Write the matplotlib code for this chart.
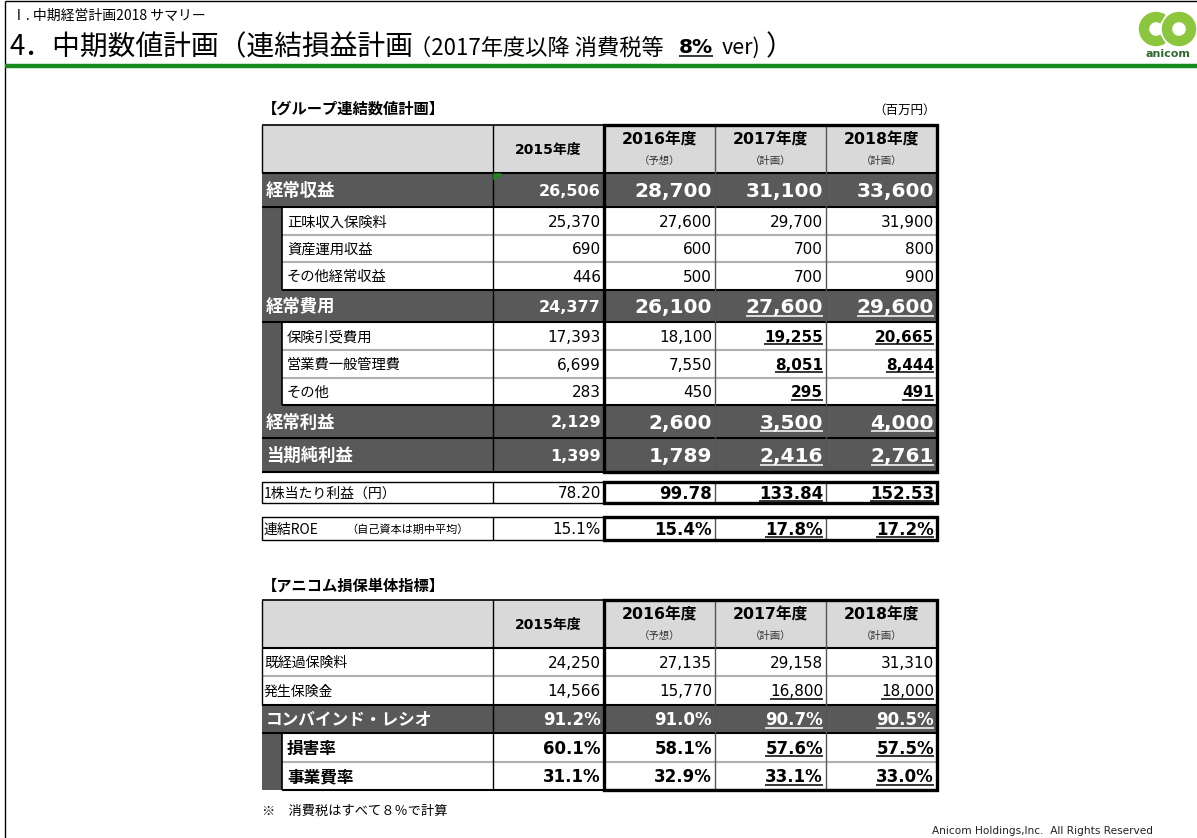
import matplotlib
matplotlib.use("Agg")
import matplotlib.pyplot as plt
from matplotlib.patches import Rectangle, Wedge, Polygon

W, H = 1197, 838
JP = ['Noto Sans CJK JP', 'DejaVu Sans']
NUM = ['DejaVu Sans', 'Noto Sans CJK JP']
DARK = '#595959'
HEAD = '#d9d9d9'
SEP = '#b0b0b0'

# ---- data ----
years = ['2015年度', '2016年度', '2017年度', '2018年度']
year_notes = ['', '（予想）', '（計画）', '（計画）']

t1_title = '【グループ連結数値計画】'
t1_unit = '（百万円）'
t1_labels = ['経常収益', '正味収入保険料', '資産運用収益', 'その他経常収益',
             '経常費用', '保険引受費用', '営業費一般管理費', 'その他',
             '経常利益', '当期純利益']
t1_values = [
    [26506, 28700, 31100, 33600],
    [25370, 27600, 29700, 31900],
    [690, 600, 700, 800],
    [446, 500, 700, 900],
    [24377, 26100, 27600, 29600],
    [17393, 18100, 19255, 20665],
    [6699, 7550, 8051, 8444],
    [283, 450, 295, 491],
    [2129, 2600, 3500, 4000],
    [1399, 1789, 2416, 2761],
]
eps_label = '1株当たり利益（円）'
eps_values = [78.20, 99.78, 133.84, 152.53]
roe_label = '連結ROE'
roe_note = '（自己資本は期中平均）'
roe_values = [15.1, 15.4, 17.8, 17.2]

t2_title = '【アニコム損保単体指標】'
t2_labels = ['既経過保険料', '発生保険金', 'コンバインド・レシオ', '損害率', '事業費率']
t2_values = [
    [24250, 27135, 29158, 31310],
    [14566, 15770, 16800, 18000],
    [91.2, 91.0, 90.7, 90.5],
    [60.1, 58.1, 57.6, 57.5],
    [31.1, 32.9, 33.1, 33.0],
]

# ---- layout ----
cols = [262, 493, 604, 715, 826, 937]
t1_rows = [125, 173, 207, 235, 262, 290, 322, 350, 378, 405, 438, 472]
eps_rows = [482, 503]
roe_rows = [517, 540]
t2_rows = [600, 648, 676, 705, 733, 762, 790]
t1_main = [0, 4, 8, 9]

fig = plt.figure(figsize=(W / 100, H / 100), dpi=100)
ax = fig.add_axes([0, 0, 1, 1])
ax.set_xlim(0, W)
ax.set_ylim(H, 0)
ax.axis('off')
rend = fig.canvas.get_renderer()


def box(x0, y0, x1, y1, fc='none', ec='none', lw=0, z=1):
    ax.add_patch(Rectangle((x0, y0), x1 - x0, y1 - y0, facecolor=fc,
                           edgecolor=ec, linewidth=lw, zorder=z))


def line(xs, ys, c='black', lw=1.0, z=3):
    ax.plot(xs, ys, color=c, lw=lw, zorder=z, solid_capstyle='butt')


def put(x, yc, s, size, ha='right', bold=False, color='black', ul=False, fam=NUM):
    base = yc + 0.37 * size * 100 / 72
    t = ax.text(x, base, s, fontsize=size, ha=ha, va='baseline', color=color,
                fontweight='bold' if bold else 'normal', family=fam, zorder=5)
    if ul:
        bb = t.get_window_extent(rend)
        line([bb.x0, bb.x1], [base + 2.5, base + 2.5], c=color, lw=1.1, z=5)
    return t


def fmt(v, kind):
    if kind == 'int':
        return f'{v:,.0f}'
    if kind == 'eps':
        return f'{v:.2f}'
    return f'{v:.1f}%'


# ---- frame / header ----
line([5, W], [1.5, 1.5], lw=1.0)
line([5, 5], [1.5, H], lw=1.0)
line([5, W], [66, 66], c='#178a1d', lw=3.2)
put(12, 15, 'Ⅰ. 中期経営計画2018 サマリー', 10, ha='left', fam=JP)
put(10, 45, '4．中期数値計画（連結損益計画', 20, ha='left', fam=JP)
put(409, 46, '（2017年度以降 消費税等', 16, ha='left', fam=JP)
put(679, 46, '8%', 14.5, ha='left', bold=True, ul=True)
put(722, 46, 'ver)', 15.5, ha='left', fam=JP)
put(766, 45, '）', 20, ha='left', fam=JP)

# logo
ax.add_patch(Wedge((1156, 29), 16.5, 58, 302, width=9, color='#8cc63f', zorder=4))
ax.add_patch(Wedge((1179, 29), 16.5, 0, 360, width=9, color='#8cc63f', zorder=4))
ax.text(1168, 54, 'anicom', fontsize=8, fontweight='bold', color='#2e6b2e',
        ha='center', va='center', family=NUM, zorder=5)


def header(top, bot):
    box(cols[0], top, cols[-1], bot, fc=HEAD)
    line([cols[0], cols[-1]], [top, top], lw=1.2)
    line([cols[0], cols[-1]], [bot, bot], lw=1.5)
    for i, x in enumerate(cols):
        line([x, x], [top, bot], c='black' if i < 3 or i == 5 else '#555555', lw=1.0)
    for j, (yr, note) in enumerate(zip(years, year_notes)):
        xc = (cols[j + 1] + cols[j + 2]) / 2
        if note:
            put(xc, top + 14, yr, 11.3, ha='center', bold=True)
            put(xc, top + 35, note, 7.5, ha='center', color='#333333', fam=JP)
        else:
            put(xc, (top + bot) / 2, yr, 10, ha='center', bold=True)


# ---- table 1 ----
put(262, 108, t1_title, 11, ha='left', bold=True, fam=JP)
put(936, 109, t1_unit, 9, ha='right', fam=JP)
header(t1_rows[0], t1_rows[1])

for i, (lab, vals) in enumerate(zip(t1_labels, t1_values)):
    y0, y1 = t1_rows[i + 1], t1_rows[i + 2]
    yc = (y0 + y1) / 2
    if i in t1_main:
        box(cols[0], y0, cols[-1], y1, fc=DARK)
        put(266, yc, lab, 12.5, ha='left', bold=True, color='white', fam=JP)
        ul = i != 0
        for j, v in enumerate(vals):
            xr = cols[j + 2] - 3
            if j == 0:
                put(xr, yc, fmt(v, 'int'), 11.5, bold=True, color='white')
            else:
                put(xr, yc, fmt(v, 'int'), 14.5, bold=True, color='white', ul=ul and j >= 2)
        line([cols[0], cols[-1]], [y1, y1], lw=1.5)
    else:
        box(cols[0], y0, 282, y1, fc=DARK)
        box(282, y0, cols[-1], y1, fc='white')
        put(287, yc, lab, 10.3, ha='left', fam=JP)
        strong = i > 4
        for j, v in enumerate(vals):
            xr = cols[j + 2] - 3
            put(xr, yc, fmt(v, 'int'), 11, bold=strong and j >= 2, ul=strong and j >= 2)
        nxt_main = (i + 1) in t1_main
        line([282, cols[-1]], [y1, y1], c='black' if nxt_main else SEP, lw=1.5)
        line([282, 282], [y0, y1], lw=1.2)
    for k, x in enumerate(cols[1:], start=1):
        line([x, x], [y0, y1], c='black' if k <= 2 or k == 5 else '#555555', lw=1.0)

# small green excel marker
ax.add_patch(Polygon([[494, 174], [501, 174], [494, 180]], color='#1e8c1e', zorder=6))

box(cols[2], t1_rows[0], cols[-1], t1_rows[-1], ec='black', lw=2.4, z=6)

# EPS and ROE rows
for rows, lab, vals, kind in [(eps_rows, eps_label, eps_values, 'eps'),
                              (roe_rows, roe_label, roe_values, 'pct')]:
    y0, y1 = rows
    yc = (y0 + y1) / 2
    box(cols[0], y0, cols[2], y1, ec='black', lw=1.0, z=3)
    line([cols[1], cols[1]], [y0, y1], lw=1.0)
    put(264, yc, lab, 10, ha='left', fam=JP)
    for j, v in enumerate(vals):
        put(cols[j + 2] - 3, yc, fmt(v, kind), 11 if j == 0 else 12,
            bold=j >= 1, ul=j >= 2)
        if j >= 2:
            line([cols[j + 1], cols[j + 1]], [y0, y1], c='#555555', lw=1.0)
    box(cols[2], y0, cols[-1], y1, ec='black', lw=2.4, z=6)
put(346, roe_rows[0] + 11.5, roe_note, 8, ha='left', fam=JP)

# ---- table 2 ----
put(262, 585, t2_title, 11, ha='left', bold=True, fam=JP)
header(t2_rows[0], t2_rows[1])

for i, (lab, vals) in enumerate(zip(t2_labels, t2_values)):
    y0, y1 = t2_rows[i + 1], t2_rows[i + 2]
    yc = (y0 + y1) / 2
    kind = 'int' if i < 2 else 'pct'
    if i < 2:
        box(cols[0], y0, cols[-1], y1, fc='white')
        put(264, yc, lab, 10, ha='left', fam=JP)
        for j, v in enumerate(vals):
            put(cols[j + 2] - 3, yc, fmt(v, kind), 11, ul=(i == 1 and j >= 2))
        line([cols[0], cols[-1]], [y1, y1], c='black' if i == 1 else SEP, lw=1.5)
        line([cols[0], cols[0]], [y0, y1], lw=1.0)
    elif i == 2:
        box(cols[0], y0, cols[-1], y1, fc=DARK)
        put(266, yc, lab, 12, ha='left', bold=True, color='white', fam=JP)
        for j, v in enumerate(vals):
            put(cols[j + 2] - 3, yc, fmt(v, kind), 12, bold=True, color='white', ul=j >= 2)
        line([cols[0], cols[-1]], [y1, y1], lw=1.5)
    else:
        box(cols[0], y0, 282, y1, fc=DARK)
        box(282, y0, cols[-1], y1, fc='white')
        put(287, yc, lab, 12, ha='left', bold=True, fam=JP)
        for j, v in enumerate(vals):
            put(cols[j + 2] - 3, yc, fmt(v, kind), 12, bold=True, ul=j >= 2)
        line([282, cols[-1]], [y1, y1], c=SEP if i == 3 else 'black', lw=1.5)
        line([282, 282], [y0, y1], lw=1.2)
    for k, x in enumerate(cols[1:], start=1):
        line([x, x], [y0, y1], c='black' if k <= 2 or k == 5 else '#555555', lw=1.0)

box(cols[2], t2_rows[0], cols[-1], t2_rows[-1], ec='black', lw=2.4, z=6)

# ---- footer ----
put(262, 810, '※　消費税はすべて８％で計算', 9.5, ha='left', fam=JP)
put(932, 830, 'Anicom Holdings,Inc.  All Rights Reserved', 7.6, ha='left', color='#222222')

fig.savefig('out.png', dpi=100)
